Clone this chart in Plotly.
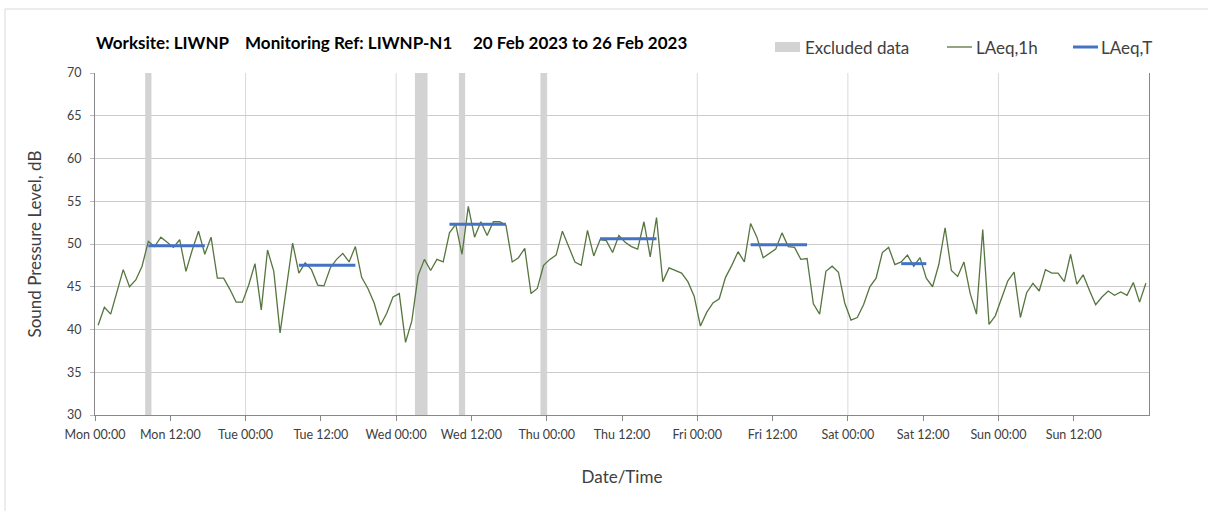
import pandas as pd
import plotly.graph_objects as go

# hourly LAeq,1h values, Mon 20 Feb 2023 00:00 onward (plotted at mid-hour)
start = pd.Timestamp("2023-02-20 00:00")
laeq_1h = [
    40.5, 42.6, 41.8, 44.5, 47.0, 45.0, 45.8, 47.4, 50.3, 49.7, 50.8, 50.2,
    49.6, 50.5, 46.8, 49.3, 51.5, 48.8, 50.8, 46.0, 46.0, 44.7, 43.2, 43.2,
    45.2, 47.7, 42.3, 49.3, 46.8, 39.6, 44.8, 50.1, 46.6, 47.8, 47.0, 45.2,
    45.1, 47.2, 48.2, 48.9, 47.9, 49.7, 46.1, 44.8, 43.1, 40.5, 41.9, 43.8,
    44.2, 38.5, 41.0, 46.3, 48.2, 46.9, 48.2, 47.9, 51.3, 52.3, 48.8, 54.4,
    50.8, 52.6, 51.0, 52.6, 52.6, 52.2, 47.9, 48.4, 49.5, 44.2, 44.8, 47.5,
    48.2, 48.7, 51.5, 49.8, 47.9, 47.5, 51.6, 48.6, 50.5, 50.4, 49.0, 51.0,
    50.2, 49.7, 49.4, 52.6, 48.5, 53.1, 45.6, 47.2, 46.9, 46.6, 45.6, 43.9,
    40.4, 42.0, 43.1, 43.6, 46.1, 47.5, 49.1, 47.9, 52.4, 50.8, 48.4, 48.9,
    49.4, 51.3, 49.7, 49.6, 48.2, 48.3, 43.0, 41.8, 46.8, 47.4, 46.7, 43.1,
    41.1, 41.4, 42.9, 45.0, 46.0, 49.0, 49.6, 47.6, 47.9, 48.7, 47.4, 48.4,
    46.0, 45.0, 47.6, 51.9, 46.9, 46.2, 47.9, 44.2, 41.8, 51.7, 40.6, 41.6,
    43.7, 45.7, 46.7, 41.4, 44.3, 45.4, 44.5, 47.0, 46.6, 46.6, 45.6, 48.8,
    45.3, 46.4, 44.6, 42.9, 43.8, 44.5, 44.0, 44.4, 44.0, 45.5, 43.2, 45.4,
]
times = [start + pd.Timedelta(minutes=30) + pd.Timedelta(hours=i) for i in range(len(laeq_1h))]

# LAeq,T daytime periods
laeqt_start = ["2023-02-20 08:30", "2023-02-21 08:30", "2023-02-22 08:30",
               "2023-02-23 08:30", "2023-02-24 08:30", "2023-02-25 08:30"]
laeqt_end = ["2023-02-20 17:30", "2023-02-21 17:30", "2023-02-22 17:30",
             "2023-02-23 17:30", "2023-02-24 17:30", "2023-02-25 12:30"]
laeqt_val = [49.8, 47.5, 52.3, 50.6, 49.9, 47.7]

# excluded periods: start time and duration in hours
excl_start = ["2023-02-20 08:00", "2023-02-22 03:00", "2023-02-22 10:00", "2023-02-22 23:00"]
excl_hours = [1, 2, 1, 1]

tick_times = pd.date_range("2023-02-20 00:00", "2023-02-26 12:00", freq="12h")
day_lines = pd.date_range("2023-02-21", "2023-02-26", freq="D")

# pixel -> paper helpers (plot area 95..1149 x 73..415)
def px(x):
    return (x - 95) / 1054

def py(y):
    return (415 - y) / 342

GREEN = '#56753f'
BLUE = '#4472c4'
GREY_BAR = '#d3d3d3'
TXT = '#404040'

fig = go.Figure()

# excluded data bars
hour_ms = 3600 * 1000
excl_centres = [pd.Timestamp(s) + pd.Timedelta(hours=h / 2) for s, h in zip(excl_start, excl_hours)]
fig.add_trace(go.Bar(
    x=excl_centres,
    y=[40] * len(excl_start),
    base=30,
    width=[h * hour_ms for h in excl_hours],
    marker=dict(color=GREY_BAR, line=dict(width=0)),
    name='Excluded data',
    hoverinfo='skip'
))

fig.add_trace(go.Scatter(
    x=times,
    y=laeq_1h,
    mode='lines',
    name='LAeq,1h',
    line=dict(color=GREEN, width=1.3)
))

# blue LAeq,T segments joined with gaps
tx, ty = [], []
for s, e, v in zip(laeqt_start, laeqt_end, laeqt_val):
    tx += [pd.Timestamp(s), pd.Timestamp(e), None]
    ty += [v, v, None]
fig.add_trace(go.Scatter(
    x=tx,
    y=ty,
    mode='lines',
    name='LAeq,T',
    line=dict(color=BLUE, width=3),
    connectgaps=False
))

# day gridlines
for d in day_lines:
    fig.add_shape(type='line', xref='x', yref='y', x0=d, x1=d, y0=30, y1=70,
                  line=dict(color='#d9d9d9', width=1), layer='below')

# outer chart border
fig.add_shape(type='rect', xref='paper', yref='paper',
              x0=px(5), x1=1.2, y0=-0.5, y1=py(9),
              line=dict(color='#d9d9d9', width=1))

# hand-placed legend
fig.add_shape(type='rect', xref='paper', yref='paper',
              x0=px(775), x1=px(800), y0=py(52), y1=py(42),
              fillcolor=GREY_BAR, line=dict(width=0))
fig.add_shape(type='line', xref='paper', yref='paper',
              x0=px(947), x1=px(972), y0=py(47), y1=py(47),
              line=dict(color=GREEN, width=1.3))
fig.add_shape(type='line', xref='paper', yref='paper',
              x0=px(1073), x1=px(1098), y0=py(47), y1=py(47),
              line=dict(color=BLUE, width=3))
for label, lx in [('Excluded data', 803), ('LAeq,1h', 974), ('LAeq,T', 1099)]:
    fig.add_annotation(text=label, xref='paper', yref='paper', x=px(lx), y=py(47),
                       xanchor='left', yanchor='middle', showarrow=False,
                       font=dict(size=17, color=TXT))

fig.add_annotation(
    text="Worksite: LIWNP    Monitoring Ref: LIWNP-N1     20 Feb 2023 to 26 Feb 2023",
    xref='paper', yref='paper', x=px(94), y=py(43),
    xanchor='left', yanchor='middle', showarrow=False,
    font=dict(size=17, color='#000000', weight='bold')
)

fig.update_layout(
    width=1208,
    height=511,
    margin=dict(l=95, r=59, t=73, b=96),
    plot_bgcolor='white',
    paper_bgcolor='white',
    font=dict(family='Lato', color=TXT, size=12),
    barmode='overlay',
    showlegend=False,
    xaxis=dict(
        type='date',
        range=["2023-02-20 00:00", "2023-02-27 00:00"],
        tickvals=list(tick_times),
        ticktext=[t.strftime('%a %H:%M') for t in tick_times],
        ticks='outside',
        ticklen=5,
        tickcolor='#888888',
        ticklabelstandoff=3,
        showgrid=False,
        showline=True,
        linecolor='#888888',
        mirror=False,
        tickfont=dict(size=12.5, color=TXT),
        title=dict(text='Date/Time', font=dict(size=17, color=TXT), standoff=30)
    ),
    yaxis=dict(
        range=[30, 70],
        dtick=5,
        showgrid=True,
        gridcolor='#cccccc',
        showline=True,
        linecolor='#888888',
        mirror=True,
        ticks='outside',
        ticklen=4,
        tickcolor='#bbbbbb',
        ticklabelstandoff=6,
        tickfont=dict(size=12.5, color=TXT),
        zeroline=False,
        title=dict(text='Sound Pressure Level, dB', font=dict(size=17, color=TXT), standoff=21)
    )
)

fig.write_html("out.html", config={'displayModeBar': False},
               post_script="document.body.style.margin='0';")
